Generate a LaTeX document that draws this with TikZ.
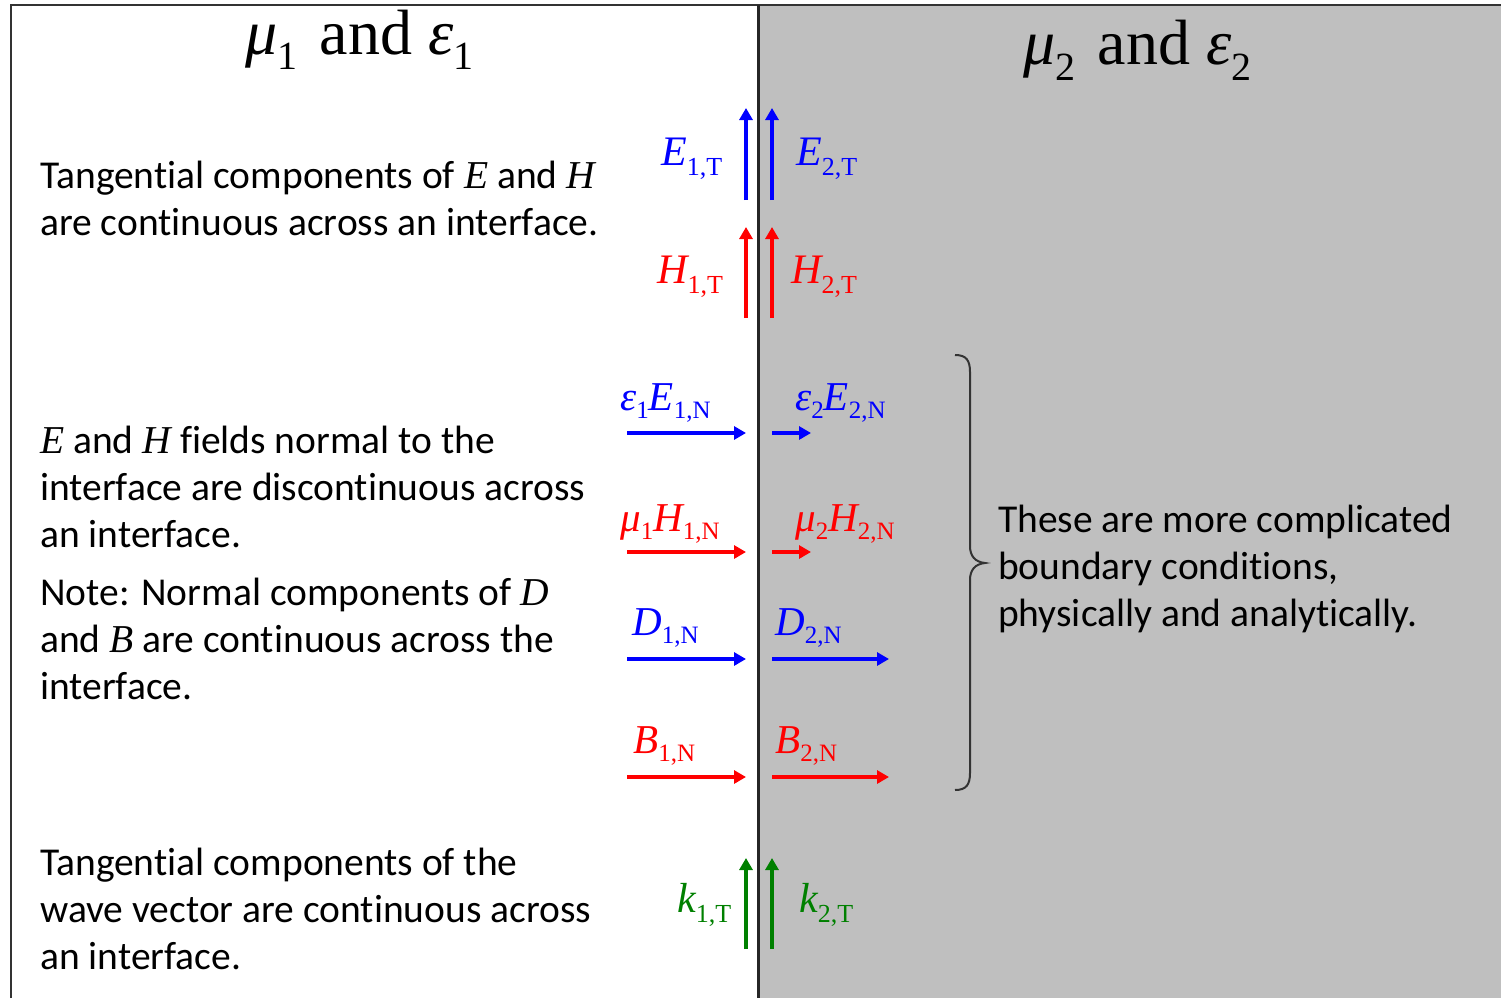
\documentclass[tikz,border=0pt]{standalone}
\usepackage{fontspec}
\setmainfont{Carlito}[RawFeature={-liga}]
\newfontfamily\tnr{Liberation Serif}
\usetikzlibrary{arrows.meta}
\definecolor{panelgray}{HTML}{BFBFBF}
\definecolor{kgreen}{RGB}{0,128,0}
\newcommand{\lbT}[2]{{\itshape #1}\raisebox{-10pt}{\fontsize{26}{26}\selectfont #2}}
\newcommand{\lbN}[2]{{\itshape #1}\raisebox{-8pt}{\fontsize{25}{25}\selectfont #2}}
\newcommand{\ti}[1]{{\tnr\itshape #1}}
\begin{document}
\begin{tikzpicture}[x=1pt,y=-1pt,
  body/.style={anchor=base west,inner sep=0pt,font=\fontsize{39.5}{47}\selectfont},
  labT/.style={anchor=base west,inner sep=0pt,font=\tnr\fontsize{42}{42}\selectfont},
  labN/.style={anchor=base west,inner sep=0pt,font=\tnr\fontsize{41}{41}\selectfont},
  ttl/.style={anchor=base west,inner sep=0pt,font=\tnr\fontsize{64}{64}\selectfont},
  vec/.style={line width=4pt,-{Triangle[length=12pt,width=13pt]}}]
\useasboundingbox (0,0) rectangle (1501,998);
\fill[white] (0,0) rectangle (1501,998);
\fill[panelgray] (758,5) rectangle (1501,998);
\draw[line width=2.5pt,black!80] (11,998) -- (11,5) -- (1501,5);
\draw[line width=3pt,black!85] (758,5) -- (758,998);

% titles
\node[ttl] (t1) at (245,55) {{\itshape μ}\raisebox{-15pt}{\fontsize{40}{40}\selectfont 1}\hspace{0.35em}and\hspace{0.25em}{\itshape ε}\raisebox{-15pt}{\fontsize{40}{40}\selectfont 1}};
\node[ttl] (t2) at (1023,65) {{\itshape μ}\raisebox{-15pt}{\fontsize{40}{40}\selectfont 2}\hspace{0.35em}and\hspace{0.25em}{\itshape ε}\raisebox{-15pt}{\fontsize{40}{40}\selectfont 2}};

% left texts
\node[body] (a1) at (40,188) {Tangential components of \ti{E} and \ti{H}};
\node[body] (a2) at (40,235) {are continuous across an interface.};
\node[body] (b1) at (40,453) {\ti{E} and \ti{H} fields normal to the};
\node[body] (b2) at (40,500) {interface are discontinuous across};
\node[body] (b3) at (40,547) {an interface.};
\node[body] (c1) at (40,605) {Note: Normal components of \ti{D}};
\node[body] (c2) at (40,652) {and \ti{B} are continuous across the};
\node[body] (c3) at (40,699) {interface.};
\node[body] (d1) at (40,875) {Tangential components of the};
\node[body] (d2) at (40,922) {wave vector are continuous across};
\node[body] (d3) at (40,969) {an interface.};
% right text
\node[body] (r1) at (998,532) {These are more complicated};
\node[body] (r2) at (998,579) {boundary conditions,};
\node[body] (r3) at (998,626) {physically and analytically.};

% labels
\node[labT,blue] (e1) at (661,165) {\lbT{E}{1,T}};
\node[labT,blue] (e2) at (796,165) {\lbT{E}{2,T}};
\node[labT,red] (h1) at (657,283) {\lbT{H}{1,T}};
\node[labT,red] (h2) at (791,283) {\lbT{H}{2,T}};
\node[labN,blue] (en1) at (620,410) {\lbN{ε}{1}\lbN{E}{1,N}};
\node[labN,blue] (en2) at (795,410) {\lbN{ε}{2}\lbN{E}{2,N}};
\node[labN,red] (hn1) at (620,531) {\lbN{μ}{1}\lbN{H}{1,N}};
\node[labN,red] (hn2) at (795,531) {\lbN{μ}{2}\lbN{H}{2,N}};
\node[labN,blue] (dn1) at (632,635) {\lbN{D}{1,N}};
\node[labN,blue] (dn2) at (775,635) {\lbN{D}{2,N}};
\node[labN,red] (bn1) at (633,753) {\lbN{B}{1,N}};
\node[labN,red] (bn2) at (775,753) {\lbN{B}{2,N}};
\node[labT,kgreen] (k1) at (677,912) {\lbT{k}{1,T}};
\node[labT,kgreen] (k2) at (799,912) {\lbT{k}{2,T}};

% arrow endpoints
\coordinate (eA1) at (746,200); \coordinate (eB1) at (746,108);
\coordinate (eA2) at (772,200); \coordinate (eB2) at (772,108);
\coordinate (hA1) at (746,318); \coordinate (hB1) at (746,227);
\coordinate (hA2) at (772,318); \coordinate (hB2) at (772,227);
\coordinate (kA1) at (746,949); \coordinate (kB1) at (746,858);
\coordinate (kA2) at (772,949); \coordinate (kB2) at (772,858);
\coordinate (nA1) at (627,433); \coordinate (nB1) at (746,433);
\coordinate (nA2) at (772,433); \coordinate (nB2) at (811,433);
\coordinate (mA1) at (627,552); \coordinate (mB1) at (746,552);
\coordinate (mA2) at (772,552); \coordinate (mB2) at (811,552);
\coordinate (dA1) at (627,659); \coordinate (dB1) at (746,659);
\coordinate (dA2) at (772,659); \coordinate (dB2) at (889,659);
\coordinate (bA1) at (627,777); \coordinate (bB1) at (746,777);
\coordinate (bA2) at (772,777); \coordinate (bB2) at (889,777);

\draw[vec,blue] (eA1) -- (eB1);
\draw[vec,blue] (eA2) -- (eB2);
\draw[vec,red] (hA1) -- (hB1);
\draw[vec,red] (hA2) -- (hB2);
\draw[vec,kgreen] (kA1) -- (kB1);
\draw[vec,kgreen] (kA2) -- (kB2);
\draw[vec,blue] (nA1) -- (nB1);
\draw[vec,blue] (nA2) -- (nB2);
\draw[vec,red] (mA1) -- (mB1);
\draw[vec,red] (mA2) -- (mB2);
\draw[vec,blue] (dA1) -- (dB1);
\draw[vec,blue] (dA2) -- (dB2);
\draw[vec,red] (bA1) -- (bB1);
\draw[vec,red] (bA2) -- (bB2);

% brace
\coordinate (brT) at (955,355);
\coordinate (brB) at (955,790);
\draw[line width=2pt,black!80] (brT) .. controls (966,355) and (970,360) .. (970,372) -- (970,546) .. controls (970,556) and (975,562) .. (985,563) .. controls (975,564) and (970,570) .. (970,580) -- (970,773) .. controls (970,785) and (966,790) .. (brB);
\end{tikzpicture}
\end{document}
